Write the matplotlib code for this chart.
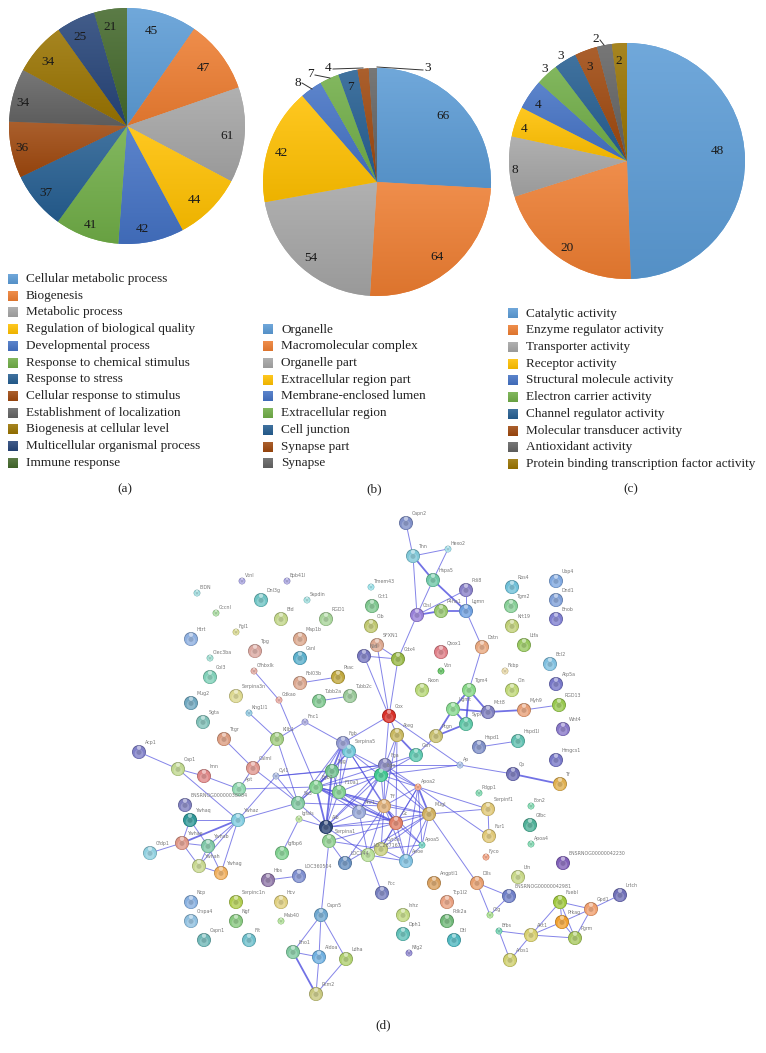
import numpy as np
import matplotlib
matplotlib.use('Agg')
import matplotlib.pyplot as plt
from matplotlib.colors import to_rgb

plt.rcParams['font.family'] = ['Liberation Serif', 'DejaVu Serif']

W, H = 766, 1053

# office chart colours
pie_colors = ['#5B9BD5', '#ED7D31', '#A5A5A5', '#FFC000', '#4472C4', '#70AD47',
              '#255E91', '#9E480E', '#636363', '#997300', '#264478', '#43682B']

values_a = [45, 47, 61, 44, 42, 41, 37, 36, 34, 34, 25, 21]
values_b = [66, 64, 54, 42, 8, 7, 7, 4, 3]
values_c = [48, 20, 8, 4, 4, 3, 3, 3, 2, 2]

legend_a = ['Cellular metabolic process', 'Biogenesis', 'Metabolic process',
            'Regulation of biological quality', 'Developmental process',
            'Response to chemical stimulus', 'Response to stress',
            'Cellular response to stimulus', 'Establishment of localization',
            'Biogenesis at cellular level', 'Multicellular organismal process',
            'Immune response']
legend_b = ['Organelle', 'Macromolecular complex', 'Organelle part',
            'Extracellular region part', 'Membrane-enclosed lumen',
            'Extracellular region', 'Cell junction', 'Synapse part', 'Synapse']
legend_c = ['Catalytic activity', 'Enzyme regulator activity', 'Transporter activity',
            'Receptor activity', 'Structural molecule activity', 'Electron carrier activity',
            'Channel regulator activity', 'Molecular transducer activity',
            'Antioxidant activity', 'Protein binding transcription factor activity']

# where the value labels sit, in pixels of the page
label_xy_a = [(151, 31), (203, 68), (227, 136), (194, 200), (142, 229), (90, 225),
              (46, 193), (22, 148), (23, 103), (48, 62), (80, 37), (110, 27)]
label_xy_b = [(443, 116), (437, 257), (311, 258), (281, 153), (298, 83), (310, 74),
              (350, 87), (328, 68), (428, 68)]
label_xy_c = [(717, 151), (567, 248), (515, 170), (524, 129), (538, 105), (545, 69),
              (561, 56), (590, 67), (596, 39), (619, 61)]

# string network
node_names = ['Vtnl', 'Epb41l', 'EIDN', 'Dnl3g', 'Sspdin', 'Cccnl', 'Bid', 'RGD1', 'Fgl1', 'Htrt',
              'Map1b', 'Tpg', 'Clec3ba', 'Gsnl', 'Col3', 'Cfhbxlk', 'Cdkao', 'Fbl03b', 'Psac', 'Tubb2a',
              'Tubb2c', 'Serpina3n', 'Mug2', 'Kng1l1', 'Sgta', 'Fnc1', 'Kllb1', 'Ttgr', 'Fgb', 'Serpina5',
              'Acp1', 'Calml', 'Cap1', 'Imn', 'Apt', 'Cyl1', 'Fgg', 'Fgb2', 'F10a1', 'Sa3',
              'Igfals', 'Ahr1', 'Alb', 'Serpina1', 'Ywhaz', 'ENSRNOG00000038084', 'Ywhaq', 'Ywhae', 'Ywhab', 'Cfdp1',
              'Ywhah', 'Ywhag', 'Igfbp6', 'LOC287167', 'LOC344', 'Hbs', 'LOC360504', 'Ncp', 'Serpinc1n', 'Hcv',
              'Crspa4', 'Ngf', 'Mab40', 'Capn1', 'Flt', 'Capn5', 'Eno1', 'Aldoa', 'Ldha', 'Pkm2',
              'Fcc', 'Capn2', 'Tnn', 'Hexo2', 'Hspa5', 'Pdi8', 'Lgmn', 'P4ha1', 'Ctsl', 'Tmem43',
              'Cct1', 'Cib', 'SFXN1', 'Nid', 'Cdx4', 'Qsox1', 'Vtn', 'Dstn', 'Rbs4', 'Tgm2',
              'Krt19', 'Ubp4', 'Dnd1', 'Enob', 'Ltfa', 'Bcl2', 'Fkbp', 'Cln', 'Rxon', 'Tgm4',
              'Atp5a', 'Ugmt', 'Mct8', 'Sypl', 'Myh9', 'RGD13', 'Wnt4', 'Cox', 'Ateg', 'Gsn',
              'Ptgn', 'Hspd1', 'Hspd1l', 'Hmgcs1', 'Fga', 'Itga', 'Ap', 'Cp', 'Tf', 'Apoa2',
              'Trf', 'Mugl', 'Gc', 'Serpinf1', 'Fur1', 'Pdgp1', 'Eon2', 'Gfbc', 'Apoa4', 'Apoa5',
              'Apoe', 'Cyr3a', 'Fyco', 'Dlls', 'ENSRNOG00000042981', 'Ctg', 'ENSRNOG00000042230', 'Lfn', 'Angptl1', 'Tcp1l2',
              'Pdk2a', 'Dtl', 'Inhz', 'Dph1', 'Nfg2', 'Fuebl', 'Gpd1', 'Lrtch', 'Prkag', 'Pgrm',
              'Akt1', 'Efbs', 'Arbs1']
node_x = [242, 287, 197, 261, 307, 216, 281, 326, 236, 191,
          300, 255, 210, 300, 210, 254, 279, 300, 338, 319,
          350, 236, 191, 249, 203, 305, 277, 224, 343, 349,
          139, 253, 178, 204, 239, 276, 332, 316, 339, 298,
          299, 359, 326, 329, 238, 185, 190, 182, 208, 150,
          199, 221, 282, 368, 345, 268, 299, 191, 236, 281,
          191, 236, 281, 204, 249, 321, 293, 319, 346, 316,
          382, 406, 413, 448, 433, 466, 466, 441, 417, 371,
          372, 371, 377, 364, 398, 441, 441, 482, 512, 511,
          512, 556, 556, 556, 524, 550, 505, 512, 422, 469,
          556, 453, 488, 466, 524, 559, 563, 389, 397, 416,
          436, 479, 518, 556, 385, 381, 460, 513, 560, 418,
          384, 429, 396, 488, 489, 479, 531, 530, 531, 422,
          406, 381, 486, 477, 509, 490, 563, 518, 434, 447,
          447, 454, 403, 403, 409, 560, 591, 620, 562, 575,
          531, 499, 510]
node_y = [581, 581, 593, 600, 600, 613, 619, 619, 632, 639,
          639, 651, 658, 658, 677, 671, 700, 683, 677, 701,
          696, 696, 703, 713, 722, 722, 739, 739, 743, 751,
          752, 768, 769, 776, 789, 776, 771, 787, 792, 803,
          819, 812, 827, 841, 820, 805, 820, 843, 846, 853,
          866, 873, 853, 855, 863, 880, 876, 902, 902, 902,
          921, 921, 921, 940, 940, 915, 952, 957, 959, 994,
          893, 523, 556, 549, 580, 590, 611, 611, 615, 587,
          606, 626, 645, 656, 659, 652, 671, 647, 587, 606,
          626, 581, 600, 619, 645, 664, 671, 690, 690, 690,
          684, 709, 712, 724, 710, 705, 729, 716, 735, 755,
          736, 747, 741, 760, 765, 775, 765, 774, 784, 787,
          806, 814, 823, 809, 836, 793, 806, 825, 844, 845,
          861, 849, 857, 883, 896, 915, 863, 877, 883, 902,
          921, 940, 915, 934, 953, 902, 909, 895, 922, 938,
          935, 931, 960]
small_nodes = ['Vtnl', 'Epb41l', 'EIDN', 'Sspdin', 'Cccnl', 'Fgl1', 'Clec3ba', 'Cfhbxlk', 'Cdkao',
               'Kng1l1', 'Fnc1', 'Cyl1', 'Igfals', 'Mab40', 'Hexo2', 'Tmem43', 'Vtn', 'Fkbp',
               'Ap', 'Apoa2', 'Pdgp1', 'Eon2', 'Apoa4', 'Apoa5', 'Fyco', 'Ctg', 'Nfg2', 'Efbs']
node_colors = ['#a9a5e0', '#a9a5e0', '#9edadd', '#6fc4c4', '#a0dede', '#a8dba0', '#c2d68a', '#a8d49a', '#d8d890', '#8fb0e0',
               '#dca98f', '#dba8a0', '#9edcd0', '#5cb0cc', '#80d0b8', '#e0a8a0', '#e8a8a0', '#dca890', '#c0a840', '#80c890',
               '#98c898', '#dcd890', '#70a8c0', '#90c8e0', '#80c0b8', '#a8a8e0', '#a0cc80', '#dc9c80', '#9098d0', '#70c8d8',
               '#8080c8', '#e09890', '#c0d890', '#e08888', '#90d8b0', '#a8b8e0', '#70c090', '#80d090', '#80d090', '#80c8a0',
               '#b8e098', '#98a8d8', '#304878', '#90d090', '#80cce0', '#8080c0', '#309898', '#e09888', '#80c8a8', '#90d0e0',
               '#c8d890', '#f0b060', '#80d090', '#b8e098', '#6890c0', '#9078a8', '#8090d0', '#88b0e0', '#b0cc50', '#e0d080',
               '#90c0e0', '#88c880', '#b0e098', '#70b8b8', '#70c0cc', '#70a8d0', '#80c8a0', '#70b0e0', '#b0d070', '#c8c880',
               '#7880c0', '#8090c8', '#80c8d8', '#a0dce8', '#70c8a8', '#8880c8', '#70a0e0', '#98c870', '#9880d8', '#98e0e8',
               '#80c890', '#c0c870', '#dca890', '#7878c0', '#98b848', '#e08088', '#60c060', '#e8a880', '#70c0d8', '#88d098',
               '#c0d078', '#80a8e0', '#80a0d8', '#8080d0', '#98c860', '#80c0e0', '#e8d8a8', '#c0d878', '#b8d878', '#88d888',
               '#7878c8', '#88d890', '#8080c0', '#60c8a8', '#e8a078', '#98c850', '#8878c8', '#d83028', '#c8b860', '#60c8b0',
               '#c8c070', '#8090c8', '#60c0b0', '#7878c8', '#8888c0', '#40c890', '#a8c0e8', '#7070b8', '#e0b050', '#f0a080',
               '#e0b078', '#d0b060', '#e08068', '#e0c878', '#e0c878', '#80d8b0', '#80d8b0', '#50b098', '#80d8b0', '#70d0c0',
               '#80c0e0', '#c8d080', '#f0a080', '#e8a070', '#7080c8', '#a8e090', '#8060b8', '#c8d888', '#d8a060', '#e8a080',
               '#70b878', '#50b8c0', '#c0d880', '#60c0b8', '#9088d0', '#a0c840', '#f0a070', '#7070b8', '#f0a030', '#a8c860',
               '#d8d070', '#70d0b0', '#d0d070']

edges_thin = [('Capn2', 'Tnn'), ('Tnn', 'Hexo2'), ('Hexo2', 'Hspa5'), ('Tnn', 'Ctsl'), ('Hspa5', 'Ctsl'),
              ('Pdi8', 'Ctsl'), ('Pdi8', 'Lgmn'), ('Lgmn', 'Dstn'), ('Dstn', 'Tgm4'), ('Ctsl', 'Cdx4'),
              ('Cdx4', 'Cox'), ('Cdx4', 'SFXN1'), ('Cdx4', 'Nid'), ('SFXN1', 'Cox'), ('Nid', 'Cox'),
              ('Cox', 'Ateg'), ('Cox', 'Ap'), ('Cox', 'Fga'), ('Cox', 'Fgb'), ('Ptgn', 'Gsn'),
              ('Gsn', 'Fga'), ('Gsn', 'Itga'), ('Ap', 'Cp'), ('Ap', 'Itga'), ('Ap', 'Fga'),
              ('Myh9', 'RGD13'), ('Hspd1', 'Hspd1l'), ('Fnc1', 'Kllb1'), ('Fnc1', 'Fgb'), ('Kllb1', 'Kng1l1'),
              ('Kllb1', 'Calml'), ('Kllb1', 'Sa3'), ('Cfhbxlk', 'Cdkao'), ('Cdkao', 'Fgb2'), ('Fbl03b', 'Psac'),
              ('Tubb2a', 'Tubb2c'), ('Ttgr', 'Calml'), ('Acp1', 'Cap1'), ('Cap1', 'Imn'), ('Imn', 'Apt'),
              ('Apt', 'Calml'), ('Cap1', 'Ywhaz'), ('Apt', 'Fgb2'), ('Cyl1', 'Ywhaz'), ('Cyl1', 'Sa3'),
              ('Cyl1', 'Fgg'), ('Cyl1', 'Fga'), ('Calml', 'Sa3'), ('Ywhaz', 'Sa3'), ('Ywhaz', 'Ywhaq'),
              ('Ywhaz', 'Ywhab'), ('Ywhaz', 'Ywhah'), ('Ywhaz', 'Ywhag'), ('Ywhaq', 'Ywhae'), ('Ywhaq', 'Ywhab'),
              ('Ywhae', 'Ywhab'), ('Ywhae', 'Ywhah'), ('Ywhae', 'Cfdp1'), ('Ywhab', 'Ywhah'), ('Ywhab', 'Ywhag'),
              ('Ywhah', 'Ywhag'), ('Igfals', 'Igfbp6'), ('Igfals', 'Alb'), ('Hbs', 'LOC360504'), ('Serpina1', 'Capn5'),
              ('Capn5', 'Eno1'), ('Capn5', 'Aldoa'), ('Capn5', 'Ldha'), ('Eno1', 'Aldoa'), ('Aldoa', 'Pkm2'),
              ('Ldha', 'Pkm2'), ('Apoa2', 'Serpinf1'), ('Apoa2', 'Fur1'), ('Mugl', 'Serpinf1'), ('Serpinf1', 'Fur1'),
              ('Mugl', 'Dlls'), ('Dlls', 'ENSRNOG00000042981'), ('Dlls', 'Ctg'), ('ENSRNOG00000042981', 'Ctg'), ('LOC287167', 'Fcc'),
              ('Fuebl', 'Gpd1'), ('Fuebl', 'Prkag'), ('Fuebl', 'Akt1'), ('Gpd1', 'Lrtch'), ('Gpd1', 'Prkag'),
              ('Gpd1', 'Pgrm'), ('Prkag', 'Pgrm'), ('Prkag', 'Akt1'), ('Akt1', 'Pgrm'), ('Fuebl', 'Pgrm'),
              ('Efbs', 'Akt1'), ('Efbs', 'Arbs1'), ('Akt1', 'Arbs1'),
              # dense core of the network
              ('Fgb', 'Fgb2'), ('Fgb', 'F10a1'), ('Fgb', 'Sa3'), ('Fgb', 'Alb'),
              ('Serpina5', 'Fgg'), ('Serpina5', 'Fgb2'), ('Serpina5', 'F10a1'), ('Serpina5', 'Mugl'), ('Serpina5', 'Trf'),
              ('Serpina5', 'Gc'), ('Serpina5', 'Apoa2'), ('Fgg', 'F10a1'),
              ('Fgb2', 'F10a1'), ('Fgb2', 'Sa3'), ('Fgb2', 'Ahr1'), ('Fgb2', 'Trf'),
              ('Fgb2', 'Mugl'), ('F10a1', 'Ahr1'), ('F10a1', 'Trf'), ('F10a1', 'Gc'),
              ('F10a1', 'Alb'), ('Sa3', 'Alb'), ('Alb', 'Ahr1'), ('Alb', 'Serpina1'), ('Alb', 'Fga'),
              ('Alb', 'Itga'), ('Alb', 'Gc'), ('Alb', 'Mugl'), ('Ahr1', 'Itga'), ('Ahr1', 'Fga'),
              ('Ahr1', 'LOC287167'), ('Ahr1', 'Gc'), ('Fga', 'Itga'), ('Fga', 'Trf'), ('Fga', 'Fgg'),
              ('Fga', 'Fgb2'), ('Fga', 'Apoa2'), ('Fga', 'Mugl'), ('Itga', 'Trf'), ('Itga', 'Fgb2'),
              ('Itga', 'F10a1'), ('Itga', 'Apoa2'), ('Itga', 'Ateg'), ('Ateg', 'Trf'), ('Ateg', 'Gc'),
              ('Apoa2', 'Trf'), ('Apoa2', 'Gc'), ('Apoa2', 'Apoe'), ('Apoa2', 'Apoa5'),
              ('Apoa2', 'Cyr3a'), ('Trf', 'Mugl'), ('Trf', 'Cyr3a'), ('Trf', 'Apoe'),
              ('Trf', 'Apoa5'), ('Gc', 'Mugl'), ('Gc', 'Apoe'), ('Gc', 'Apoa5'), ('Gc', 'Cyr3a'),
              ('Mugl', 'Apoe'), ('Mugl', 'Apoa5'), ('Mugl', 'Cyr3a'), ('Apoe', 'Apoa5'), ('Apoe', 'Cyr3a'),
              ('Cyr3a', 'Apoa5'), ('Serpina1', 'Cyr3a'), ('Serpina1', 'LOC344'), ('Serpina1', 'Gc'), ('LOC344', 'Trf'),
              ('LOC344', 'Mugl'), ('LOC287167', 'Apoe'), ('LOC287167', 'Trf'), ('LOC287167', 'Alb'),
              ('Sa3', 'Fgg'), ('Sa3', 'Trf')]
edges_thick = [('Tnn', 'Hspa5'), ('Hspa5', 'Lgmn'), ('Ctsl', 'P4ha1'), ('P4ha1', 'Lgmn'), ('Ugmt', 'Sypl'),
               ('Ugmt', 'Ptgn'), ('Sypl', 'Ptgn'), ('Tgm4', 'Ugmt'), ('Tgm4', 'Mct8'), ('Tgm4', 'Sypl'),
               ('Ugmt', 'Mct8'), ('Mct8', 'Myh9'), ('Cp', 'Tf'), ('Eno1', 'Pkm2'), ('Fgb2', 'Alb'),
               ('Fgb', 'Fgg'), ('Fgb2', 'Fgg'), ('Ateg', 'Gsn'), ('Fgb2', 'Gc'), ('Apoa2', 'Mugl'),
               ('Trf', 'Gc'), ('Alb', 'Fgg'), ('Ywhaz', 'Ywhae')]

captions = ['(a)', '(b)', '(c)', '(d)']
caption_xy = [(125, 489), (374, 489), (631, 489), (383, 1025)]


def shade(color, k):
    # k>0 towards white, k<0 towards black
    c = np.array(to_rgb(color))
    if k > 0:
        return c + (1 - c) * k
    return c * (1 + k)


def gradient(color):
    t = np.linspace(0, 1, 128).reshape(-1, 1, 1)
    return shade(color, 0.13) * (1 - t) + shade(color, -0.07) * t


def add_pie(cx, cy, r, values, label_xy, ax_page):
    ax = fig.add_axes([(cx - r) / W, 1 - (cy + r) / H, 2 * r / W, 2 * r / H])
    wedges, _ = ax.pie(values, colors=pie_colors[:len(values)], startangle=90, counterclock=False,
                       radius=1.0, wedgeprops={'linewidth': 0})
    for w, col in zip(wedges, pie_colors):
        box = w.get_path().get_extents()
        im = ax.imshow(gradient(col), extent=(box.x0, box.x1, box.y0, box.y1), origin='upper',
                       aspect='auto', interpolation='nearest', zorder=3)
        im.set_clip_path(w.get_path(), transform=ax.transData)
    ax.set_xlim(-1, 1)
    ax.set_ylim(-1, 1)
    ax.axis('off')
    for v, (x, y) in zip(values, label_xy):
        ax_page.text(x, y, str(v), fontsize=9.5, ha='center', va='center', color='#1a1a1a', zorder=6)


def add_legend(ax, x, y0, labels):
    for i, lab in enumerate(labels):
        y = y0 + i * 16.72
        ax.imshow(gradient(pie_colors[i]), extent=(x, x + 10, y + 5, y - 5), origin='upper',
                  aspect='auto', interpolation='nearest', zorder=2)
        ax.text(x + 18, y, lab, fontsize=9.5, ha='left', va='center', color='#222222')


fig = plt.figure(figsize=(W / 100, H / 100), dpi=100)
page = fig.add_axes([0, 0, 1, 1], zorder=5)
page.patch.set_alpha(0)

add_pie(127, 126, 118, values_a, label_xy_a, page)
add_pie(377, 182, 114, values_b, label_xy_b, page)
add_pie(627, 161, 118, values_c, label_xy_c, page)

# leader lines of the small slices
leaders = [[(302, 83), (312, 89)], [(315, 75), (330, 78)], [(333, 69), (363, 68)],
           [(423, 70), (377, 67)], [(600, 40), (604, 45)]]
for seg in leaders:
    page.plot([seg[0][0], seg[1][0]], [seg[0][1], seg[1][1]], color='#333333', lw=0.7, zorder=5)

add_legend(page, 8, 279, legend_a)
add_legend(page, 263, 329.5, legend_b)
add_legend(page, 508, 313.5, legend_c)

for cap, (x, y) in zip(captions, caption_xy):
    page.text(x, y, cap, fontsize=9.5, ha='center', va='center', color='#222222')

# network
pos = dict(zip(node_names, zip(node_x, node_y)))
for group, lw, alpha in [(edges_thin, 0.7, 0.68), (edges_thick, 1.3, 0.78)]:
    for a, b in group:
        page.plot([pos[a][0], pos[b][0]], [pos[a][1], pos[b][1]], color='#4a4ade', lw=lw,
                  alpha=alpha, zorder=1, solid_capstyle='round')

xs = np.array(node_x, dtype=float)
ys = np.array(node_y, dtype=float)
rad = np.array([3.4 if n in small_nodes else 7.0 for n in node_names])
px2pt = 72 / 100


def blob(x, y, r, colors, alpha=1.0, z=3):
    page.scatter(x, y, s=(2 * r * px2pt) ** 2, c=colors, alpha=alpha, linewidths=0, zorder=z)


blob(xs, ys, rad, [shade(c, -0.24) for c in node_colors], z=3)
blob(xs, ys + 0.05 * rad, rad * 0.9, node_colors, z=3.1)
blob(xs, ys + 0.25 * rad, rad * 0.62, [shade(c, 0.3) for c in node_colors], alpha=0.7, z=3.2)
blob(xs, ys + 0.05 * rad, rad * 0.36, [shade(c, -0.3) for c in node_colors], alpha=0.4, z=3.3)
blob(xs, ys - 0.62 * rad, rad * 0.3, ['white'] * len(xs), alpha=0.5, z=3.4)

for n, x, y, r in zip(node_names, xs, ys, rad):
    page.text(x + r * 0.85, y - r * 0.95, n, fontsize=3.4, family='DejaVu Sans', color='#777777',
              ha='left', va='bottom', zorder=4)

page.set_xlim(0, W)
page.set_ylim(H, 0)
page.axis('off')

fig.savefig('out.png', dpi=100, facecolor='white')
